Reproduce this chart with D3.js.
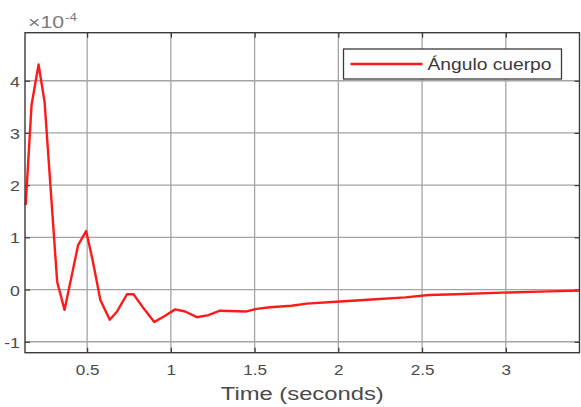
<!DOCTYPE html>
<html>
<head>
<meta charset="utf-8">
<script src="https://cdn.jsdelivr.net/npm/d3@7"></script>
<style>
  html, body { margin: 0; padding: 0; background: #fff; }
  svg { display: block; font-family: "Liberation Sans", Arial, sans-serif; }
</style>
</head>
<body>
<svg id="chart" width="581" height="407"></svg>
<script>
// Body angle response (units of 1e-4) over simulation time
const time = [0.133, 0.168, 0.210, 0.246, 0.321, 0.365, 0.446, 0.494, 0.533, 0.579,
              0.635, 0.679, 0.738, 0.777, 0.837, 0.901, 0.956, 1.026, 1.085, 1.155,
              1.224, 1.293, 1.452, 1.512, 1.591, 1.72, 1.81, 2.01, 2.2, 2.4,
              2.54, 2.7, 2.98, 3.2, 3.44];
const angle = [1.62, 3.53, 4.31, 3.59, 0.15, -0.39, 0.85, 1.12, 0.56, -0.20,
               -0.58, -0.42, -0.09, -0.09, -0.36, -0.62, -0.52, -0.38, -0.42, -0.53,
               -0.49, -0.405, -0.42, -0.37, -0.34, -0.31, -0.27, -0.23, -0.19, -0.15,
               -0.105, -0.09, -0.06, -0.04, -0.02];
const xTicks = [0.5, 1, 1.5, 2, 2.5, 3];
const yTicks = [-1, 0, 1, 2, 3, 4];
const seriesName = "Ángulo cuerpo";
const xLabel = "Time (seconds)";

const svg = d3.select("#chart");
const plotL = 25, plotR = 579.5, plotT = 32.7, plotB = 352.7;

const x = d3.scaleLinear().domain([0.129, 3.44]).range([plotL, plotR]);
const y = d3.scaleLinear().domain([-1.21, 4.92]).range([plotB, plotT]);

const axisColor = "#3a3a3a";
const gridColor = "#a4a4a4";
const labelColor = "#4a4a4a";

// widen glyphs horizontally by factor k
function stretch(sel, k) {
  sel.each(function () {
    const w = this.getComputedTextLength();
    d3.select(this).attr("textLength", w * k).attr("lengthAdjust", "spacingAndGlyphs");
  });
}

// grid lines
const grid = svg.append("g");
grid.selectAll(".gx").data(xTicks).join("line")
  .attr("x1", d => x(d)).attr("x2", d => x(d))
  .attr("y1", plotT).attr("y2", plotB)
  .attr("stroke", gridColor).attr("stroke-width", 1.3);
grid.selectAll(".gy").data(yTicks).join("line")
  .attr("x1", plotL).attr("x2", plotR)
  .attr("y1", d => y(d)).attr("y2", d => y(d))
  .attr("stroke", gridColor).attr("stroke-width", 1.3);

// axes with inward ticks
const xAxis = d3.axisBottom(x).tickValues(xTicks).tickSize(-5).tickPadding(12)
  .tickFormat(d3.format("~g"));
const yAxis = d3.axisLeft(y).tickValues(yTicks).tickSize(-5).tickPadding(5)
  .tickFormat(d => d < 0 ? "-" + Math.abs(d) : d);

function styleAxis(g) {
  g.select(".domain").remove();
  g.selectAll(".tick line").attr("stroke", axisColor).attr("stroke-width", 1.2);
  g.selectAll(".tick text").attr("fill", labelColor).attr("font-size", 14.5)
    .attr("font-family", "Liberation Sans, Arial, sans-serif");
}
const gx = svg.append("g").attr("transform", `translate(0,${plotB})`).call(xAxis).call(styleAxis);
stretch(gx.selectAll(".tick text"), 1.18);
const gy = svg.append("g").attr("transform", `translate(${plotL},0)`).call(yAxis).call(styleAxis);
gy.selectAll(".tick text").attr("dy", "0.36em").attr("font-size", 15.5);
stretch(gy.selectAll(".tick text"), 1.15);
svg.append("g").attr("transform", `translate(0,${plotT})`)
  .call(d3.axisTop(x).tickValues(xTicks).tickSize(-5).tickFormat(""))
  .call(styleAxis);
svg.append("g").attr("transform", `translate(${plotR},0)`)
  .call(d3.axisRight(y).tickValues(yTicks).tickSize(-5).tickFormat(""))
  .call(styleAxis);

// data line
const line = d3.line().x((d, i) => x(time[i])).y(d => y(d));
svg.append("path").datum(angle)
  .attr("d", line)
  .attr("fill", "none").attr("stroke", "#ff1a1a")
  .attr("stroke-width", 2.4).attr("stroke-linejoin", "round");

// box
svg.append("rect").attr("x", plotL).attr("y", plotT)
  .attr("width", plotR - plotL).attr("height", plotB - plotT)
  .attr("fill", "none").attr("stroke", axisColor).attr("stroke-width", 1.4);

// exponent label
svg.append("text").attr("x", 28).attr("y", 27.5)
  .attr("fill", "#7a7a7a").attr("font-size", 16.5).text("×10")
  .attr("textLength", 36).attr("lengthAdjust", "spacingAndGlyphs");
svg.append("text").attr("x", 65).attr("y", 20.5)
  .attr("fill", "#7a7a7a").attr("font-size", 11.5).text("-4")
  .attr("textLength", 12).attr("lengthAdjust", "spacingAndGlyphs");

// x axis label
svg.append("text").attr("x", (plotL + plotR) / 2).attr("y", 400)
  .attr("text-anchor", "middle").attr("fill", labelColor)
  .attr("font-size", 17.5).text(xLabel)
  .attr("textLength", 163).attr("lengthAdjust", "spacingAndGlyphs");

// legend
const lg = svg.append("g");
lg.append("rect").attr("x", 343.5).attr("y", 49).attr("width", 218).attr("height", 30)
  .attr("fill", "#fff").attr("stroke", axisColor).attr("stroke-width", 1.3);
lg.append("line").attr("x1", 350.5).attr("x2", 422.5).attr("y1", 64).attr("y2", 64)
  .attr("stroke", "#ff1a1a").attr("stroke-width", 2.4);
lg.append("text").attr("x", 427.5).attr("y", 70).attr("fill", "#3a3a3a")
  .attr("font-size", 16).text(seriesName)
  .attr("textLength", 124).attr("lengthAdjust", "spacingAndGlyphs");
</script>
</body>
</html>
